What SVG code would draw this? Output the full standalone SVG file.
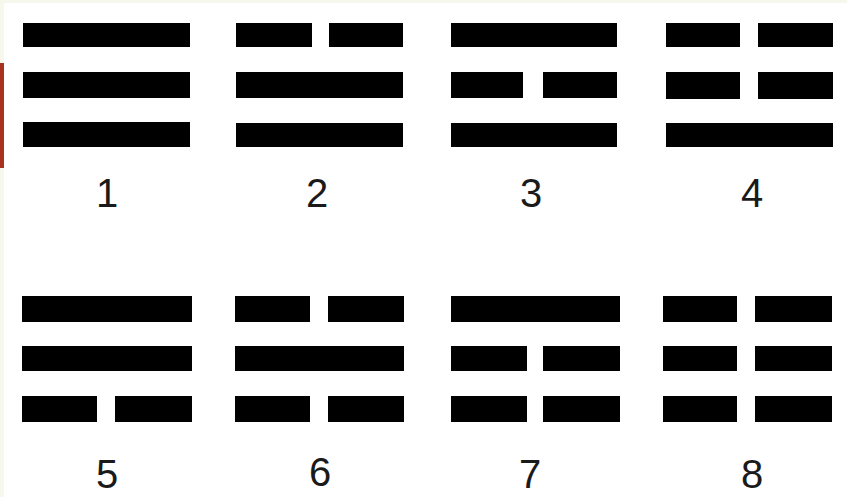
<svg xmlns="http://www.w3.org/2000/svg" width="847" height="497" viewBox="0 0 847 497">
<style>
.bar{fill:#000}
.lbl{font-family:"Liberation Sans",Arial,sans-serif;font-size:40px;fill:#1a1a1a;text-anchor:middle}
</style>
<rect x="0" y="0" width="847" height="497" fill="#ffffff"/>
<rect x="0" y="0" width="847" height="3" fill="#f6f8ee"/>
<rect x="0" y="0" width="4" height="497" fill="#f7f7ec"/>
<rect x="0" y="63" width="4" height="105" fill="#a8321c"/>
<g id="trigram1">
<rect class="bar" x="23" y="23" width="167" height="24"/>
<rect class="bar" x="23" y="72" width="167" height="26"/>
<rect class="bar" x="23" y="122" width="167" height="25"/>
<text class="lbl" x="107" y="207">1</text>
</g>
<g id="trigram2">
<rect class="bar" x="236" y="23" width="76" height="24"/>
<rect class="bar" x="329" y="23" width="74" height="24"/>
<rect class="bar" x="236" y="72" width="167" height="26"/>
<rect class="bar" x="236" y="123" width="167" height="24"/>
<text class="lbl" x="317" y="207">2</text>
</g>
<g id="trigram3">
<rect class="bar" x="451" y="23" width="166" height="24"/>
<rect class="bar" x="451" y="72" width="72" height="26"/>
<rect class="bar" x="543" y="72" width="74" height="26"/>
<rect class="bar" x="451" y="123" width="166" height="24"/>
<text class="lbl" x="531" y="207">3</text>
</g>
<g id="trigram4">
<rect class="bar" x="666" y="23" width="74" height="24"/>
<rect class="bar" x="758" y="23" width="75" height="24"/>
<rect class="bar" x="666" y="72" width="74" height="27"/>
<rect class="bar" x="758" y="72" width="75" height="27"/>
<rect class="bar" x="666" y="123" width="167" height="24"/>
<text class="lbl" x="752" y="207">4</text>
</g>
<g id="trigram5">
<rect class="bar" x="22" y="296" width="170" height="26"/>
<rect class="bar" x="22" y="346" width="170" height="25"/>
<rect class="bar" x="22" y="396" width="75" height="26"/>
<rect class="bar" x="115" y="396" width="77" height="26"/>
<text class="lbl" x="107" y="488">5</text>
</g>
<g id="trigram6">
<rect class="bar" x="235" y="296" width="75" height="26"/>
<rect class="bar" x="328" y="296" width="76" height="26"/>
<rect class="bar" x="235" y="346" width="169" height="25"/>
<rect class="bar" x="235" y="396" width="75" height="26"/>
<rect class="bar" x="328" y="396" width="76" height="26"/>
<text class="lbl" x="320" y="486">6</text>
</g>
<g id="trigram7">
<rect class="bar" x="451" y="296" width="169" height="26"/>
<rect class="bar" x="451" y="346" width="76" height="25"/>
<rect class="bar" x="543" y="346" width="77" height="25"/>
<rect class="bar" x="451" y="396" width="76" height="26"/>
<rect class="bar" x="543" y="396" width="77" height="26"/>
<text class="lbl" x="530" y="488">7</text>
</g>
<g id="trigram8">
<rect class="bar" x="663" y="296" width="74" height="26"/>
<rect class="bar" x="755" y="296" width="77" height="26"/>
<rect class="bar" x="663" y="346" width="74" height="25"/>
<rect class="bar" x="755" y="346" width="77" height="25"/>
<rect class="bar" x="663" y="396" width="74" height="26"/>
<rect class="bar" x="755" y="396" width="77" height="26"/>
<text class="lbl" x="752" y="488">8</text>
</g>
<g id="connectors"/>
</svg>
